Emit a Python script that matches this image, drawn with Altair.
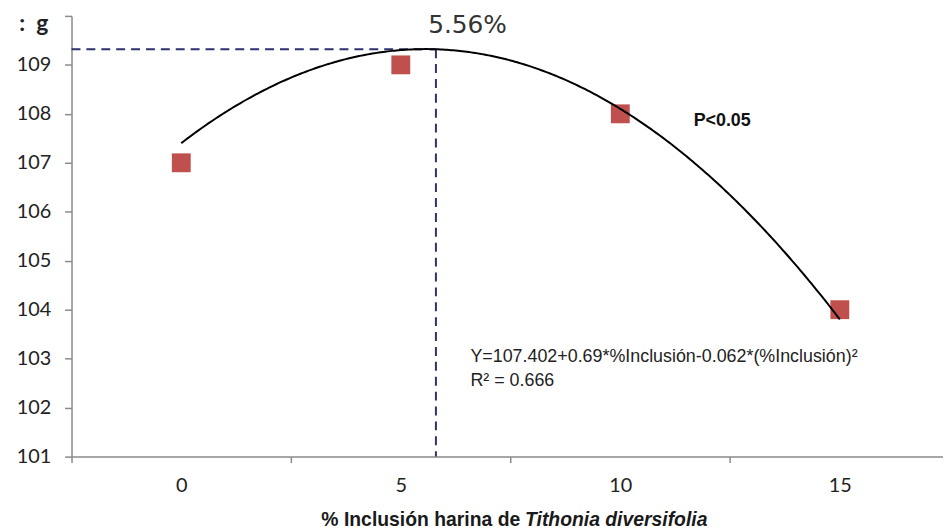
import altair as alt
import pandas as pd

# ---- data ----
levels = [0, 5, 10, 15]                 # % inclusion
weights = [107, 109, 108, 104]          # g
coef = [107.402, 0.69, -0.062]          # fitted quadratic shown on the chart
peak_x_drawn = 5.8                      # where the dashed guide is drawn
peak_y = 109.32
x_tick_values = [-2.5, 0, 2.5, 5, 7.5, 10, 12.5, 15]
y_tick_values = [101, 102, 103, 104, 105, 106, 107, 108, 109, 110]

eq_lines = ["Y=107.402+0.69*%Inclusión-0.062*(%Inclusión)²", "R² = 0.666"]
eq_x = [6.585, 6.585]
eq_y = [102.93, 102.45]

x_domain = [-2.5, 17.35]
y_domain = [101, 110]

xs = alt.Scale(domain=x_domain, nice=False, zero=False)
ys = alt.Scale(domain=y_domain, nice=False, zero=False)

axis_col = "#8a8a8a"
x_axis = alt.Axis(
    values=x_tick_values,
    labelExpr="datum.value % 5 == 0 ? format(datum.value, 'd') : ''",
    tickOpacity={"condition": {"test": "datum.value % 5 == 0", "value": 0}, "value": 1},
    tickSize=6, labelPadding=13, grid=False, title=None,
    domainColor=axis_col, tickColor=axis_col, domainWidth=1.5, tickWidth=1.5,
    labelFont="Lato", labelFontSize=20, labelColor="#222222", labelOverlap=False,
    labelFlush=False,
)
y_axis = alt.Axis(
    values=y_tick_values,
    labelExpr="datum.value == 110 ? '' : datum.label",
    tickSize=7, labelPadding=14, grid=False,
    domainColor=axis_col, tickColor=axis_col, domainWidth=1.5, tickWidth=1.5,
    labelFont="Lato", labelFontSize=20, labelColor="#222222", labelOverlap=False,
    title=":\u00a0\u00a0g", titleAngle=0, titleAlign="right", titleBaseline="alphabetic",
    titleX=-24, titleY=15, titleFont="Lato", titleFontSize=23, titleFontWeight="bold",
    titleColor="#222222",
)

pts = pd.DataFrame({"x": levels, "y": weights})
points = alt.Chart(pts).mark_square(size=361, color="#C0504D", opacity=1).encode(
    x=alt.X("x:Q", scale=xs, axis=x_axis),
    y=alt.Y("y:Q", scale=ys, axis=y_axis),
)

curve = (
    alt.Chart(alt.sequence(0, 15.0001, 0.05, as_="x"))
    .transform_calculate(y=f"{coef[0]} + {coef[1]}*datum.x + ({coef[2]})*datum.x*datum.x")
    .mark_line(color="black", strokeWidth=2)
    .encode(x=alt.X("x:Q", scale=xs), y=alt.Y("y:Q", scale=ys))
)

guides = pd.DataFrame({
    "x": [x_domain[0], peak_x_drawn],
    "x2": [peak_x_drawn, peak_x_drawn],
    "y": [peak_y, peak_y],
    "y2": [peak_y, y_domain[0]],
})
guide = alt.Chart(guides).mark_rule(color="#2E3170", strokeWidth=2, strokeDash=[9, 6]).encode(
    x=alt.X("x:Q", scale=xs), x2="x2:Q", y=alt.Y("y:Q", scale=ys), y2="y2:Q"
)

eq_df = pd.DataFrame({"t": eq_lines, "x": eq_x, "y": eq_y})
eq = alt.Chart(eq_df).mark_text(
    align="left", baseline="alphabetic", font="Liberation Sans", fontSize=18, color="#222222"
).encode(x=alt.X("x:Q", scale=xs), y=alt.Y("y:Q", scale=ys), text="t:N")

pval = alt.Chart(pd.DataFrame({"t": ["P<0.05"], "x": [11.67], "y": [107.75]})).mark_text(
    align="left", baseline="alphabetic", font="Liberation Sans", fontSize=18,
    fontWeight="bold", color="#111111"
).encode(x=alt.X("x:Q", scale=xs), y=alt.Y("y:Q", scale=ys), text="t:N")

peak_lbl = alt.Chart(pd.DataFrame({"t": ["5.56%"], "x": [6.52], "y": [109.82]})).mark_text(
    align="center", baseline="middle", font="DejaVu Sans", fontSize=25, color="#333333"
).encode(x=alt.X("x:Q", scale=xs), y=alt.Y("y:Q", scale=ys), text="t:N")

title_a = alt.Chart(pd.DataFrame({"t": ["% Inclusión harina de"], "x": [7.72], "y": [99.58]})).mark_text(
    align="right", baseline="alphabetic", font="Liberation Sans", fontSize=19.5,
    fontWeight="bold", color="#1a1a1a"
).encode(x=alt.X("x:Q", scale=xs), y=alt.Y("y:Q", scale=ys), text="t:N")

title_b = alt.Chart(pd.DataFrame({"t": ["Tithonia diversifolia"], "x": [7.83], "y": [99.58]})).mark_text(
    align="left", baseline="alphabetic", font="Liberation Sans", fontSize=19.5,
    fontWeight="bold", fontStyle="italic", color="#1a1a1a"
).encode(x=alt.X("x:Q", scale=xs), y=alt.Y("y:Q", scale=ys), text="t:N")

chart = (
    alt.layer(guide, points, curve, eq, pval, peak_lbl, title_a, title_b)
    .properties(
        width=878, height=444,
        autosize=alt.AutoSizeParams(type="none"),
        padding={"left": 64, "top": 6, "right": 0, "bottom": 72},
        background="white",
    )
    .configure_view(stroke=None)
)

chart.save("out.html", embed_options={"renderer": "svg", "actions": False})
